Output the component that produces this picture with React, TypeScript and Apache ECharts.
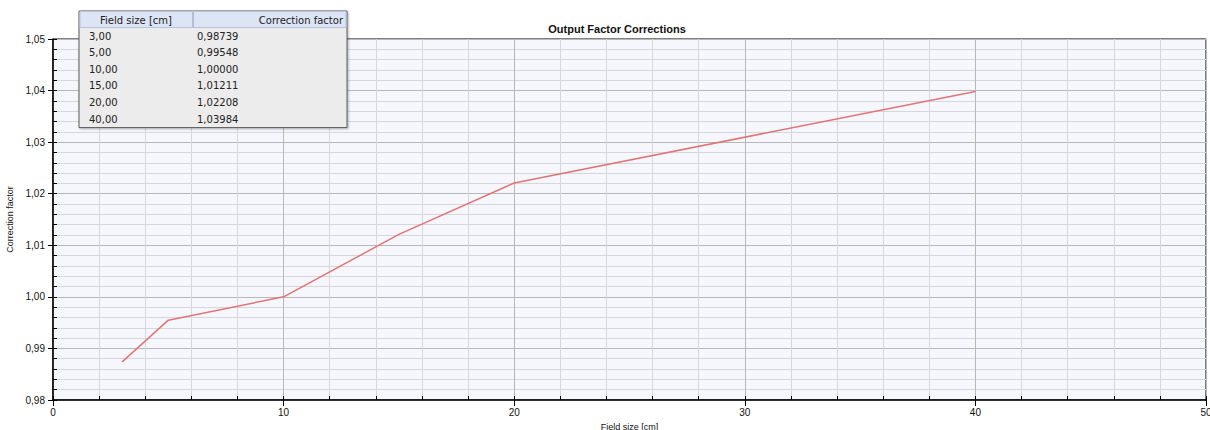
import React, { useEffect, useRef } from "react";
import * as echarts from "echarts";

const fieldSizes = [3, 5, 10, 15, 20, 40];
const correctionFactors = [0.98739, 0.99548, 1.0, 1.01211, 1.02208, 1.03984];
const xTickValues = [0, 10, 20, 30, 40, 50];
const yTickValues = [0.98, 0.99, 1.0, 1.01, 1.02, 1.03, 1.04, 1.05];
const tableHeaders = ["Field size [cm]", "Correction factor"];
const chartTitle = "Output Factor Corrections";
const xAxisName = "Field size [cm]";
const yAxisName = "Correction factor";

const fmt = (v: number, d: number) => v.toFixed(d).replace(".", ",");

export default function App() {
  const ref = useRef<HTMLDivElement>(null);
  useEffect(() => {
    if (!ref.current) return;
    const chart = echarts.init(ref.current, undefined, { renderer: "svg" });
    const tickFont = "Liberation Sans, Arial, sans-serif";
    const tableFont = "DejaVu Sans, sans-serif";

    const tLeft = 79, tTop = 11, tWidth = 268, headerH = 16, rowH = 16.6;
    const tHeight = headerH + rowH * fieldSizes.length + 1;
    const divX = 193;

    const tableEls: any[] = [
      {
        type: "rect",
        shape: { x: tLeft, y: tTop, width: tWidth, height: tHeight },
        style: { fill: "#ECECEC", stroke: "#5A5A5A", lineWidth: 1, shadowBlur: 2, shadowColor: "rgba(0,0,0,0.3)", shadowOffsetX: 1, shadowOffsetY: 1 },
        z: 100,
      },
      {
        type: "rect",
        shape: { x: tLeft + 1, y: tTop + 0.5, width: tWidth - 2, height: headerH },
        style: { fill: "#DCE5F6", stroke: "#B8C4DC", lineWidth: 1 },
        z: 101,
      },
      {
        type: "line",
        shape: { x1: divX, y1: tTop + 1, x2: divX, y2: tTop + headerH },
        style: { stroke: "#8A96B0", lineWidth: 1 },
        z: 102,
      },
      {
        type: "text",
        x: (tLeft + divX) / 2,
        y: tTop + headerH / 2 + 1,
        style: { text: tableHeaders[0], fill: "#222", font: `10px ${tableFont}`, align: "center", verticalAlign: "middle" },
        z: 103,
      },
      {
        type: "text",
        x: tLeft + tWidth - 4,
        y: tTop + headerH / 2 + 1,
        style: { text: tableHeaders[1], fill: "#222", font: `10px ${tableFont}`, align: "right", verticalAlign: "middle" },
        z: 103,
      },
    ];
    fieldSizes.forEach((fs, i) => {
      const cy = tTop + headerH + 9 + i * rowH;
      tableEls.push({
        type: "text",
        x: 89,
        y: cy,
        style: { text: fmt(fs, 2), fill: "#222", font: `10px ${tableFont}`, align: "left", verticalAlign: "middle" },
        z: 103,
      });
      tableEls.push({
        type: "text",
        x: 197,
        y: cy,
        style: { text: fmt(correctionFactors[i], 5), fill: "#222", font: `10px ${tableFont}`, align: "left", verticalAlign: "middle" },
        z: 103,
      });
    });

    chart.setOption({
      animation: false,
      backgroundColor: "#ffffff",
      title: {
        text: chartTitle,
        left: 612,
        top: 18,
        textAlign: "center",
        textStyle: { fontFamily: tickFont, fontSize: 11, fontWeight: "bold", color: "#111" },
      },
      grid: {
        left: 53,
        right: 4,
        top: 39,
        bottom: 30,
        show: true,
        containLabel: false,
        outerBoundsMode: "none",
        backgroundColor: "#F6F7FD",
        borderColor: "#000",
        borderWidth: 1,
      },
      xAxis: [
        {
          type: "value",
          min: 0,
          max: 50,
          interval: 10,
          name: xAxisName,
          nameLocation: "middle",
          nameGap: 22,
          nameTextStyle: { fontFamily: tickFont, fontSize: 9, color: "#111" },
          axisLine: { show: true, lineStyle: { color: "#000", width: 1.5 } },
          axisTick: { show: true, length: 6, lineStyle: { color: "#000" } },
          axisLabel: {
            margin: 7,
            fontFamily: tickFont,
            fontSize: 10,
            color: "#111",
            formatter: (v: number) => (xTickValues.includes(v) ? String(v) : ""),
          },
          splitLine: { show: true, lineStyle: { color: "#B8B8B8", width: 1 } },
          minorTick: { show: false, splitNumber: 5 },
          minorSplitLine: { show: true, lineStyle: { color: "#D6D6DC", width: 1 } },
        },
        {
          type: "value",
          min: 0,
          max: 50,
          interval: 2,
          position: "bottom",
          axisLine: { show: false },
          axisTick: { show: true, inside: true, length: 4, lineStyle: { color: "#000" } },
          axisLabel: { show: false },
          splitLine: { show: false },
        },
      ],
      yAxis: [
        {
          type: "value",
          min: 0.98,
          max: 1.05,
          interval: 0.01,
          name: yAxisName,
          nameLocation: "middle",
          nameGap: 31,
          nameTextStyle: { fontFamily: tickFont, fontSize: 9, color: "#111" },
          axisLine: { show: true, lineStyle: { color: "#000", width: 1.5 } },
          axisTick: { show: true, length: 5, lineStyle: { color: "#000" } },
          axisLabel: {
            margin: 8,
            fontFamily: tickFont,
            fontSize: 10,
            color: "#111",
            formatter: (v: number) => {
              const m = yTickValues.find((t) => Math.abs(t - v) < 1e-6);
              return m !== undefined ? fmt(m, 2) : "";
            },
          },
          splitLine: { show: true, lineStyle: { color: "#B8B8B8", width: 1 } },
          minorTick: { show: false, splitNumber: 5 },
          minorSplitLine: { show: true, lineStyle: { color: "#D6D6DC", width: 1 } },
        },
        {
          type: "value",
          min: 0.98,
          max: 1.05,
          interval: 0.002,
          position: "left",
          axisLine: { show: false },
          axisTick: { show: true, inside: true, length: 4, lineStyle: { color: "#000" } },
          axisLabel: { show: false },
          splitLine: { show: false },
        },
      ],
      series: [
        {
          type: "line",
          xAxisIndex: 0,
          yAxisIndex: 0,
          data: fieldSizes.map((x, i) => [x, correctionFactors[i]]),
          showSymbol: false,
          symbol: "none",
          lineStyle: { color: "#E07575", width: 1.5 },
          z: 5,
        },
      ],
      graphic: tableEls,
    });
    return () => chart.dispose();
  }, []);
  return (
    <div
      ref={ref}
      style={{ position: "fixed", left: 0, top: 0, width: 1210, height: 430 }}
    />
  );
}
